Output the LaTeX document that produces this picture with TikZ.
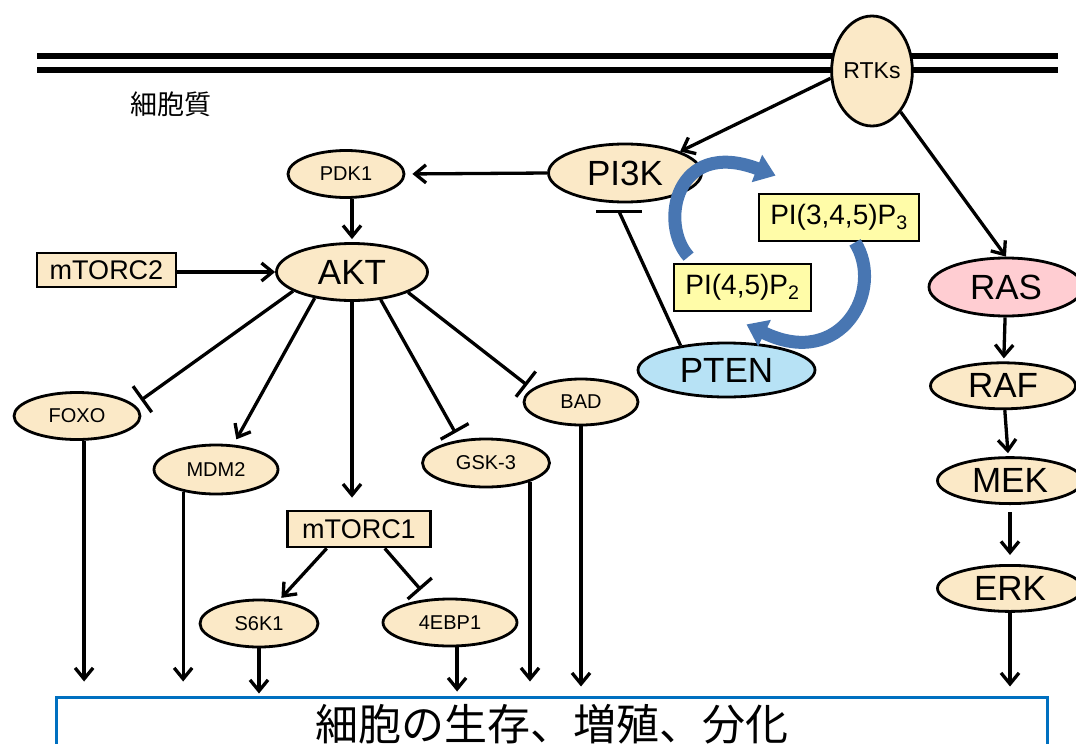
\documentclass[tikz,border=0pt]{standalone}
\usepackage{fontspec}
\setmainfont{Liberation Sans}
\newfontfamily\jpfont{Noto Sans CJK JP}
\usetikzlibrary{arrows.meta,shapes.geometric,positioning}

\definecolor{molfill}{RGB}{251,233,199}
\definecolor{ptenblue}{RGB}{183,226,245}
\definecolor{raspink}{RGB}{255,205,210}
\definecolor{lipidyellow}{RGB}{255,252,168}
\definecolor{cycblue}{RGB}{72,118,178}
\definecolor{outblue}{RGB}{0,112,192}

\tikzstyle{mol} = [ellipse, draw, line width=2.8pt, fill=molfill, inner sep=0pt]
\tikzstyle{cplx} = [rectangle, draw, line width=2.8pt, fill=molfill, inner sep=0pt,
    font=\fontsize{27}{30}\selectfont]
\tikzstyle{lipid} = [rectangle, draw, line width=2.8pt, fill=lipidyellow, inner sep=0pt,
    font=\fontsize{28}{32}\selectfont]
\tikzstyle{smalltext} = [font=\fontsize{20}{24}\selectfont]
\tikzstyle{bigtext} = [font=\fontsize{35}{40}\selectfont]
\tikzstyle{inhib} = [-{Bar[width=32pt]}]
\tikzstyle{cyc} = [draw=cycblue, line width=13pt, -{Triangle[width=28pt,length=20pt]}]

\begin{document}
\begin{tikzpicture}[x=1pt,y=-1pt,line width=3.3pt,
                    >={Straight Barb[length=11pt,width=18pt]}]
  \useasboundingbox (0,0) rectangle (1076,744);
  \clip (0,0) rectangle (1076,744);

  % membrane
  \draw[line width=6pt] (37,56) -- (1058,56);
  \draw[line width=6pt] (37,69.5) -- (1058,69.5);
  \node[font=\jpfont\fontsize{27}{30}\selectfont] (cyto) at (171,104) {細胞質};

  \node[mol,font=\fontsize{23}{26}\selectfont,minimum width=80pt,minimum height=110pt] (rtk) at (872,71) {RTKs};
  \node[mol,bigtext,minimum width=153pt,minimum height=58pt] (pik) at (625,173) {PI3K};
  \node[mol,smalltext,minimum width=116pt,minimum height=47pt] (pdk) at (346,174) {PDK1};
  \node[mol,bigtext,minimum width=151pt,minimum height=57pt] (akt) at (352,272) {AKT};
  \node[cplx,minimum width=139pt,minimum height=34pt] (mtorctwo) at (106.5,270) {mTORC2};

  \node[mol,smalltext,minimum width=126pt,minimum height=47pt] (foxo) at (77,416) {FOXO};
  \node[mol,smalltext,minimum width=124pt,minimum height=49pt] (mdm) at (216,469.5) {MDM2};
  \node[cplx,minimum width=143pt,minimum height=36pt] (mtorcone) at (359,529) {mTORC1};
  \node[mol,smalltext,minimum width=127pt,minimum height=48pt] (gsk) at (486,463) {GSK-3};
  \node[mol,smalltext,minimum width=114pt,minimum height=46pt] (bad) at (581,402) {BAD};
  \node[mol,smalltext,minimum width=118pt,minimum height=47pt] (sk) at (259,623.5) {S6K1};
  \node[mol,smalltext,minimum width=134pt,minimum height=47pt] (ebp) at (450,622.5) {4EBP1};

  \node[mol,bigtext,fill=ptenblue,minimum width=177pt,minimum height=54pt] (pten) at (726.5,370) {PTEN};
  \node[lipid,minimum width=160pt,minimum height=47pt] (pipthree) at (839,217.5) {PI(3,4,5)P\textsubscript{3}};
  \node[lipid,minimum width=137pt,minimum height=47pt] (piptwo) at (742.5,287.5) {PI(4,5)P\textsubscript{2}};

  \node[mol,bigtext,fill=raspink,minimum width=154pt,minimum height=58pt] (ras) at (1006,287) {RAS};
  \node[mol,bigtext,minimum width=145pt,minimum height=46pt,below=44pt of ras,xshift=-3pt] (raf) {RAF};
  \node[mol,bigtext,minimum width=145pt,minimum height=46pt,below=46pt of raf,xshift=7pt] (mek) {MEK};
  \node[mol,bigtext,minimum width=145pt,minimum height=46pt,below=59pt of mek] (erk) {ERK};

  \node[draw=outblue,line width=3pt,minimum width=991pt,minimum height=64pt,inner sep=0pt,
        text height=37pt,text depth=15pt,
        font=\jpfont\fontsize{43}{48}\selectfont] (out) at (551.5,729) {細胞の生存、増殖、分化};

  \draw[->] (rtk.190) -- (pik.north east);
  \draw[->] (rtk.-55) -- (ras.north);
  \draw[->,shorten >=7pt] (pik.west) -- (pdk.east);
  \draw[->,shorten >=3pt] (akt.north |- pdk.south) -- (akt.north);
  \draw[->] (mtorctwo.east |- akt.west) -- (akt.west);

  \draw[inhib,shorten >=8pt] (akt.198) -- (foxo.11);
  \draw[->,shorten >=6pt] (akt.215) -- (mdm.55);
  \draw[->,shorten >=12pt] (akt.south) -- (akt.south |- mtorcone.north);
  \draw[inhib,shorten >=8pt] (akt.-44) -- (gsk.139);
  \draw[inhib,shorten >=6pt] (akt.-20) -- (bad.165);
  \draw[->,shorten >=3pt] (mtorcone.211) -- (sk.49);
  \draw[inhib,shorten >=12pt] (mtorcone.-37) -- (ebp.132);

  % PTEN blocks PI3K
  \coordinate (pikbar) at ([xshift=-6pt,yshift=-8pt]pik.south);
  \draw (pten.152) -- (pikbar);
  \draw ([xshift=-23pt]pikbar) -- ([xshift=23pt]pikbar);

  \draw[->,shorten >=3pt] (ras) -- (raf);
  \draw[->,shorten >=3pt] (raf) -- (mek);
  \draw[->,shorten <=7pt,shorten >=9pt] (mek) -- (erk);

  \draw[->,shorten >=14pt] (foxo.-74) -- (foxo.-74 |- out.north);
  \draw[->,shorten >=14pt] (mdm.214) -- (mdm.214 |- out.north);
  \draw[->,shorten >=2pt] (sk.south) -- (sk.south |- out.north);
  \draw[->,shorten >=4pt] (ebp.-74) -- (ebp.-74 |- out.north);
  \draw[->,shorten >=14pt] (gsk.-23) -- (gsk.-23 |- out.north);
  \draw[->,shorten >=9pt] (bad.south) -- (bad.south |- out.north);
  \draw[->,shorten >=9pt] (erk.south) -- (erk.south |- out.north);

  % PIP2 <-> PIP3 cycle
  \draw[cyc] ([xshift=16pt,yshift=6pt]piptwo.north west)
      .. controls +(-30,-33) and +(-100,-38) .. ([xshift=18pt,yshift=17pt]pipthree.north west);
  \draw[cyc] ([xshift=16pt]pipthree.south)
      .. controls +(30,47) and +(95,46) .. ([xshift=4pt,yshift=-12pt]piptwo.south);
\end{tikzpicture}
\end{document}
